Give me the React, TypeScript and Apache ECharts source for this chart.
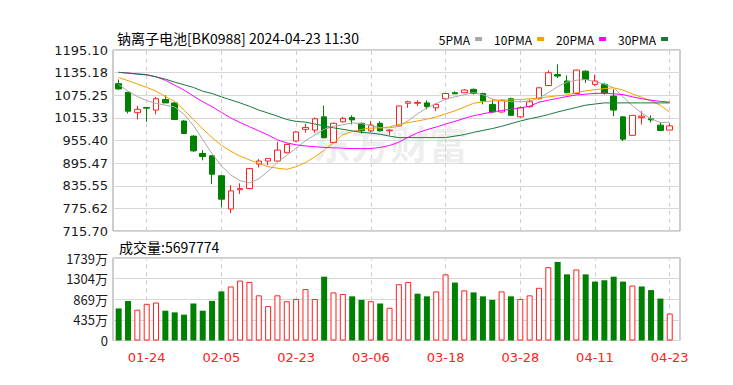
import React, { useEffect, useRef } from "react";
import * as echarts from "echarts";

const dates = ["01-19","01-22","01-23","01-24","01-25","01-26","01-29","01-30","01-31","02-01","02-02","02-05","02-06","02-07","02-08","02-19","02-20","02-21","02-22","02-23","02-26","02-27","02-28","02-29","03-01","03-04","03-05","03-06","03-07","03-08","03-11","03-12","03-13","03-14","03-15","03-18","03-19","03-20","03-21","03-22","03-25","03-26","03-27","03-28","03-29","04-01","04-02","04-03","04-08","04-09","04-10","04-11","04-12","04-15","04-16","04-17","04-18","04-19","04-22","04-23"];

const opens = [1106,1083,1029,1043,1036,1064,1055,1007,967,921,915,862,774,825,828,893,901,901,923,954,985,983,1018,950,1005,1016,1001,981,1001,981,994,1054,1054,1055,1042,1066,1082,1082,1091,1080,1051,1031,1066,1018,1045,1066,1101,1130,1113,1080,1139,1104,1104,1073,1018,969,1016,1013,996,983];
const closes = [1092,1033,1038,1041,1066,1055,1011,974,928,913,866,800,822,828,881,901,908,930,945,978,990,1013,963,1001,1014,1010,981,996,981,983,1047,1058,1056,1045,1051,1080,1079,1089,1080,1060,1031,1062,1022,1042,1058,1095,1135,1126,1082,1142,1117,1113,1080,1036,959,1022,1020,1010,982,994];
const lows = [1090,1027,1011,1005,1025,1055,1010,974,925,903,840,778,763,814,826,884,890,899,921,952,976,976,961,948,1003,998,974,978,979,969,992,1042,1047,1038,1033,1066,1079,1082,1077,1051,1029,1029,1020,1016,1042,1064,1099,1121,1080,1078,1108,1100,1077,1020,954,969,998,1003,982,983];
const highs = [1117,1084,1047,1044,1071,1075,1057,1009,969,930,916,864,837,842,883,906,909,952,947,980,1000,1016,1048,1003,1018,1022,1003,1007,1006,985,1047,1061,1062,1062,1054,1080,1086,1091,1093,1082,1064,1064,1069,1046,1064,1097,1141,1157,1128,1143,1141,1130,1108,1091,1020,1022,1033,1022,1004,1001];

const ma5 = [1104,1086,1072,1061,1054,1049,1044,1025,995,958,920,888,864,849,843,854,874,898,916,935,955,970,985,993,997,1002,1000,995,989,989,993,1008,1026,1042,1053,1065,1071,1077,1082,1077,1065,1060,1058,1058,1060,1068,1082,1098,1110,1115,1117,1111,1105,1095,1071,1048,1028,1013,1003,1004];
const ma10 = [1122,1114,1105,1096,1086,1072,1059,1036,1011,986,963,943,927,914,904,895,886,882,879,886,897,912,930,949,971,979,985,988,989,991,998,1003,1007,1012,1018,1026,1034,1044,1054,1058,1060,1062,1063,1064,1066,1068,1071,1074,1076,1082,1087,1090,1093,1095,1089,1079,1070,1060,1049,1030];
const ma20 = [1136,1134,1132,1130,1124,1115,1102,1089,1073,1058,1045,1030,1015,1003,992,981,970,957,949,944,941,939,937,936,935,934,934,934,937,942,951,964,976,984,991,999,1006,1014,1021,1026,1031,1035,1038,1042,1046,1057,1062,1067,1072,1076,1078,1080,1081,1079,1077,1071,1066,1062,1059,1057];
const ma30 = [1136,1134,1131,1129,1124,1118,1110,1103,1096,1086,1080,1071,1063,1055,1046,1036,1028,1020,1011,1006,1004,999,994,989,985,981,977,975,972,967,963,963,963,963,963,963,967,971,977,982,987,993,1000,1007,1013,1018,1024,1031,1037,1043,1049,1052,1055,1055,1055,1055,1055,1055,1055,1055];

// volume in 万, direction: 1 = up (red hollow), -1 = down (green)
const volumes = [676,835,649,773,800,628,593,545,780,628,835,1035,1139,1263,1235,952,725,952,828,876,1083,876,1345,1014,980,931,856,828,780,690,1187,1235,987,931,1035,1394,1221,1056,1014,931,856,1035,931,876,952,1111,1546,1656,1394,1497,1394,1242,1270,1345,1242,1159,1139,1063,883,569.7774];
const volumeDir = [-1,-1,1,1,1,-1,-1,-1,-1,-1,-1,-1,1,1,1,1,1,1,1,1,1,1,-1,1,1,-1,-1,1,-1,1,1,1,-1,-1,1,1,-1,1,-1,-1,-1,1,-1,1,1,1,1,-1,-1,1,-1,-1,-1,-1,-1,1,-1,-1,-1,1];

const priceTickLabels = ["715.70","775.62","835.55","895.47","955.40","1015.33","1075.25","1135.18","1195.10"];
const volumeTickLabels = ["0","435万","869万","1304万","1739万"];
const labelDates = ["01-24","02-05","02-23","03-06","03-18","03-28","04-11","04-23"];

const titleText = "钠离子电池[BK0988] 2024-04-23 11:30";
const lastVolume = "5697774";
const maNames = ["5PMA","10PMA","20PMA","30PMA"];
const maColors = ["#a8a8a8","#f5a000","#ff00ff","#1a7a3a"];

const RED = "#ff2020";
const GREEN = "#008000";
const CJK = '"Noto Sans CJK SC", "DejaVu Sans", sans-serif';
const NUM = '"DejaVu Sans", sans-serif';

export default function App() {
  const ref = useRef<HTMLDivElement>(null);
  useEffect(() => {
    if (!ref.current) return;
    const chart = echarts.init(ref.current, undefined, { renderer: "svg" });
    const candleData = dates.map((_, i) => [opens[i], closes[i], lows[i], highs[i]]);
    const volData = volumes.map((v, i) => ({
      value: v,
      itemStyle: volumeDir[i] > 0
        ? { color: "#ffffff", borderColor: RED, borderWidth: 1 }
        : { color: GREEN, borderColor: GREEN, borderWidth: 0 },
    }));
    const vLines = {
      silent: true,
      symbol: ["none", "none"],
      label: { show: false },
      lineStyle: { type: [4, 4], color: "#cfcfcf", width: 1 },
      data: labelDates.map((d) => ({ xAxis: d })),
      z: 0,
    };
    const maSeries = [ma5, ma10, ma20, ma30].map((arr, k) => ({
      name: maNames[k],
      type: "line",
      xAxisIndex: 0,
      yAxisIndex: 0,
      data: arr,
      showSymbol: false,
      symbol: "none",
      lineStyle: { width: 1, color: maColors[k] },
      itemStyle: { color: maColors[k] },
      z: 3,
    }));
    const option: any = {
      animation: false,
      backgroundColor: "#ffffff",
      title: [
        { text: titleText, left: 112, top: 26, textStyle: { fontSize: 14, fontWeight: "normal", color: "#000", fontFamily: CJK } },
        { text: "成交量:" + lastVolume, left: 114, top: 235, textStyle: { fontSize: 14, fontWeight: "normal", color: "#000", fontFamily: CJK } },
      ],
      legend: {
        data: maNames,
        right: 60,
        top: 28,
        align: "right",
        icon: "rect",
        itemWidth: 7,
        itemHeight: 4,
        itemGap: 12,
        textStyle: { fontSize: 12, color: "#000", fontFamily: CJK },
      },
      graphic: [
        {
          type: "text",
          left: 312,
          top: 122,
          z: -1,
          silent: true,
          style: { text: "东方财富", font: 'bold 39px "Noto Sans CJK SC"', fill: "rgba(150,150,150,0.16)" },
        },
      ],
      grid: [
        { left: 114, width: 560.4, top: 50, height: 181 },
        { left: 114, width: 560.4, top: 258, height: 82.5 },
        { left: 113, width: 567, top: 50, height: 181, show: true, borderColor: "#9a9a9a", borderWidth: 1, backgroundColor: "transparent" },
        { left: 113, width: 567, top: 258, height: 82.5, show: true, borderColor: "#9a9a9a", borderWidth: 1, backgroundColor: "transparent" },
      ],
      xAxis: [
        { gridIndex: 0, type: "category", data: dates, boundaryGap: true, show: false },
        {
          gridIndex: 1, type: "category", data: dates, boundaryGap: true,
          axisLine: { show: false }, axisTick: { show: false }, splitLine: { show: false },
          axisLabel: {
            interval: (i: number) => labelDates.indexOf(dates[i]) >= 0,
            color: RED, fontSize: 13, fontFamily: NUM, margin: 10,
          },
        },
        { gridIndex: 2, type: "value", min: 0, max: 1, show: false },
        { gridIndex: 3, type: "value", min: 0, max: 1, show: false },
      ],
      yAxis: [
        { gridIndex: 0, type: "value", min: 715.7, max: 1195.1, show: false },
        { gridIndex: 1, type: "value", min: 0, max: 1739, show: false },
        {
          gridIndex: 2, type: "value", min: 0, max: 8, interval: 1, position: "left",
          axisLine: { show: false }, axisTick: { show: false },
          splitLine: { show: true, lineStyle: { color: "#d8d8d8", width: 1 } },
          axisLabel: { formatter: (v: number) => priceTickLabels[Math.round(v)], color: "#1a1a1a", fontSize: 13, fontFamily: NUM, margin: 5 },
        },
        {
          gridIndex: 3, type: "value", min: 0, max: 4, interval: 1, position: "left",
          axisLine: { show: false }, axisTick: { show: false },
          splitLine: { show: true, lineStyle: { color: "#d8d8d8", width: 1 } },
          axisLabel: { formatter: (v: number) => volumeTickLabels[Math.round(v)], color: "#1a1a1a", fontSize: 13, fontFamily: CJK, margin: 5 },
        },
      ],
      series: [
        {
          name: "K",
          type: "candlestick",
          xAxisIndex: 0,
          yAxisIndex: 0,
          data: candleData,
          barWidth: 6,
          itemStyle: { color: "#ffffff", borderColor: RED, color0: GREEN, borderColor0: GREEN, borderWidth: 1 },
          markLine: vLines,
          z: 2,
        },
        ...maSeries,
        {
          name: "VOL",
          type: "bar",
          xAxisIndex: 1,
          yAxisIndex: 1,
          data: volData,
          barWidth: 6,
          markLine: vLines,
          z: 2,
        },
      ],
    };
    chart.setOption(option);
    return () => chart.dispose();
  }, []);
  return <div ref={ref} style={{ position: "absolute", left: 0, top: 0, width: 733, height: 385 }} />;
}
